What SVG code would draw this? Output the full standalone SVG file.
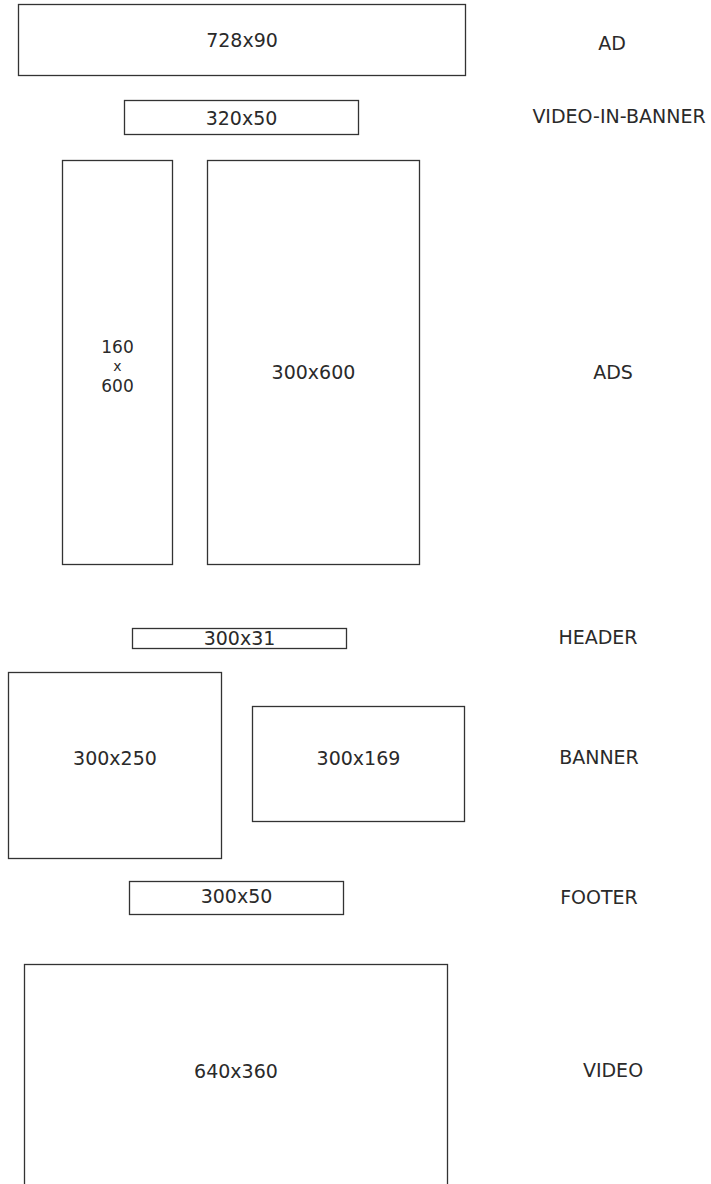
<svg xmlns="http://www.w3.org/2000/svg" width="711" height="1184" viewBox="0 0 711 1184">
<style>
.box{fill:#fff;stroke:#333;stroke-width:1.3}
text{font-family:"DejaVu Sans","Liberation Sans",sans-serif;font-size:19px;fill:#2a2a2a;text-anchor:middle}
.stk{font-size:17px}
.sx{font-size:14px}
</style>
<rect width="711" height="1184" fill="#fff"/>
<g id="n728x90"><rect class="box" x="18.5" y="4.5" width="447" height="71"/><text x="242" y="46.5">728x90</text></g>
<g id="n320x50"><rect class="box" x="124.5" y="100.5" width="234" height="34"/><text x="241.5" y="125">320x50</text></g>
<g id="n160x600"><rect class="box" x="62.5" y="160.5" width="110" height="404"/><text class="stk" x="117.5" y="353">160</text><text class="sx" x="117.5" y="371">x</text><text class="stk" x="117.5" y="391.5">600</text></g>
<g id="n300x600"><rect class="box" x="207.5" y="160.5" width="212" height="404"/><text x="313.5" y="378.5">300x600</text></g>
<g id="n300x31"><rect class="box" x="132.5" y="628.5" width="214" height="20"/><text x="239.5" y="644.5">300x31</text></g>
<g id="n300x250"><rect class="box" x="8.5" y="672.5" width="213" height="186"/><text x="115" y="764.5">300x250</text></g>
<g id="n300x169"><rect class="box" x="252.5" y="706.5" width="212" height="115"/><text x="358.5" y="764.5">300x169</text></g>
<g id="n300x50"><rect class="box" x="129.5" y="881.5" width="214" height="33"/><text x="236.5" y="902.5">300x50</text></g>
<g id="n640x360"><rect class="box" x="24.5" y="964.5" width="423" height="240"/><text x="236" y="1077.5">640x360</text></g>
<g id="labels">
<text x="612" y="50">AD</text>
<text x="619" y="122.5">VIDEO-IN-BANNER</text>
<text x="613" y="378.5">ADS</text>
<text x="598" y="643.5">HEADER</text>
<text x="599" y="763.5">BANNER</text>
<text x="599" y="903.5">FOOTER</text>
<text x="613" y="1076.5">VIDEO</text>
</g>
<g id="connectors"/>
</svg>
